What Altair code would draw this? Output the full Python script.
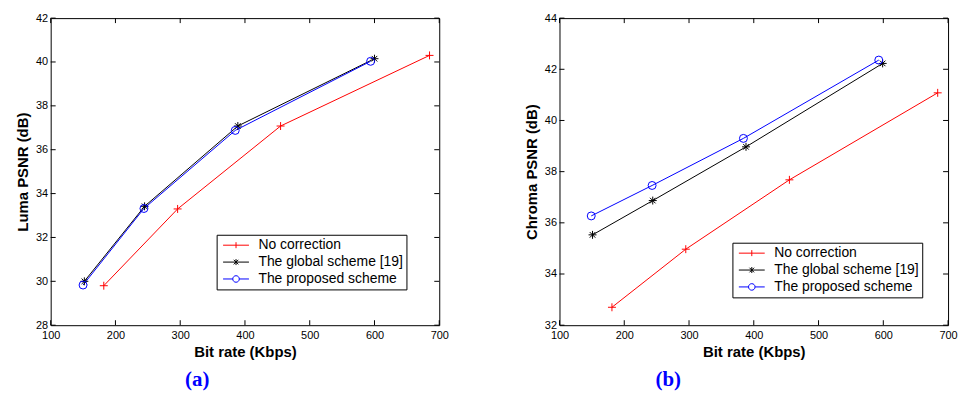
import altair as alt
import pandas as pd

series_names = ["No correction", "The global scheme [19]", "The proposed scheme"]
series_colors = ["#ff0000", "#000000", "#0000ff"]

# Luma (a)
luma_rate_none = [182, 296, 455, 685]
luma_psnr_none = [29.8, 33.3, 37.08, 40.3]
luma_rate_global = [152, 245, 389, 600]
luma_psnr_global = [30.0, 33.42, 37.08, 40.15]
luma_rate_prop = [150, 244, 385, 594]
luma_psnr_prop = [29.83, 33.32, 36.88, 40.03]

# Chroma (b)
chroma_rate_none = [181, 295, 455, 684]
chroma_psnr_none = [32.7, 34.97, 37.68, 41.08]
chroma_rate_global = [151, 244, 388, 599]
chroma_psnr_global = [35.53, 36.87, 38.97, 42.23]
chroma_rate_prop = [149, 243, 384, 593]
chroma_psnr_prop = [36.27, 37.46, 39.3, 42.36]

x_ticks = [100, 200, 300, 400, 500, 600, 700]
luma_ticks = [28, 30, 32, 34, 36, 38, 40, 42]
chroma_ticks = [32, 34, 36, 38, 40, 42, 44]

W, H = 391, 309
TICK = 5

marker_paths = [
    "M-1,0H1M0,-1V1",
    "M-1,0H1M0,-1V1M-0.7,-0.7L0.7,0.7M-0.7,0.7L0.7,-0.7",
    "circle",
]
legend_paths = [
    "M-1.86,0H1.86M0,-0.43V0.43",
    "M-1.86,0H1.86M0,-0.43V0.43M-0.33,-0.33L0.33,0.33M-0.33,0.33L0.33,-0.33",
    "M-1.86,0H-0.47M0.47,0H1.86M0.47,0A0.47,0.47,0,1,1,-0.47,0A0.47,0.47,0,1,1,0.47,0",
]


def make_df(rates, psnrs):
    rows = []
    for name, r, p in zip(series_names, rates, psnrs):
        for a, b in zip(r, p):
            rows.append({"series": name, "rate": a, "psnr": b})
    return pd.DataFrame(rows)


def panel(df, y_title, y_ticks, caption, caption_dx, leg_x, leg_y, pad_expr):
    xs = alt.Scale(domain=[x_ticks[0], x_ticks[-1]], nice=False)
    ys = alt.Scale(domain=[y_ticks[0], y_ticks[-1]], nice=False, zero=False)
    cs = alt.Scale(domain=series_names, range=series_colors)
    x_axis = alt.Axis(values=x_ticks, format="d", labelPadding=4)
    y_axis = alt.Axis(values=y_ticks, format="d", labelPadding=3)
    x_title = "Bit rate (Kbps)"

    def X(field):
        return alt.X(field, scale=xs, title=x_title, axis=x_axis)

    def Y(field):
        return alt.Y(field, scale=ys, title=y_title, axis=y_axis)

    base = alt.Chart(df)
    lines = base.mark_line(strokeWidth=1).encode(
        x=X("rate:Q"), y=Y("psnr:Q"), color=alt.Color("series:N", scale=cs, legend=None))
    points = base.mark_point(filled=False, size=64, strokeWidth=1, opacity=1).encode(
        x=X("rate:Q"), y=Y("psnr:Q"),
        color=alt.Color("series:N", scale=cs, legend=None),
        shape=alt.Shape("series:N", scale=alt.Scale(domain=series_names, range=marker_paths), legend=None),
    )
    leg = alt.Legend(title=None, orient="none", legendX=leg_x, legendY=leg_y,
                     strokeColor="black", fillColor="white", padding=3,
                     labelFont="Liberation Sans", labelFontSize=14, labelColor="black",
                     labelLimit=400,
                     symbolSize=196, symbolStrokeWidth=1, symbolOffset=9, labelOffset=15,
                     rowPadding=2, labelExpr=pad_expr)
    legend_layer = base.transform_filter("false").mark_point(filled=False, size=196, strokeWidth=1, opacity=1).encode(
        x=X("rate:Q"), y=Y("psnr:Q"),
        color=alt.Color("series:N", scale=cs, legend=leg),
        shape=alt.Shape("series:N", scale=alt.Scale(domain=series_names, range=legend_paths), legend=leg),
    )
    xt = pd.DataFrame({"v": x_ticks})
    yt = pd.DataFrame({"v": y_ticks})
    top_t = alt.Chart(xt).mark_rule(color="black", strokeWidth=1).encode(
        x=X("v:Q"), y=alt.value(0), y2=alt.value(TICK))
    bot_t = alt.Chart(xt).mark_rule(color="black", strokeWidth=1).encode(
        x=X("v:Q"), y=alt.value(H - TICK), y2=alt.value(H))
    left_t = alt.Chart(yt).mark_rule(color="black", strokeWidth=1).encode(
        y=Y("v:Q"), x=alt.value(0), x2=alt.value(TICK))
    right_t = alt.Chart(yt).mark_rule(color="black", strokeWidth=1).encode(
        y=Y("v:Q"), x=alt.value(W - TICK), x2=alt.value(W))
    return alt.layer(lines, points, legend_layer, top_t, bot_t, left_t, right_t).resolve_scale(
        color="independent", shape="independent"
    ).properties(
        width=W, height=H,
        title=alt.TitleParams(caption, orient="bottom", frame="group", anchor="middle",
                              font="Liberation Serif", fontSize=21, fontWeight="bold",
                              color="#0000ff", offset=9, dx=caption_dx),
    )


left = panel(make_df([luma_rate_none, luma_rate_global, luma_rate_prop],
                     [luma_psnr_none, luma_psnr_global, luma_psnr_prop]),
             "Luma PSNR (dB)", luma_ticks, "(a)", -48, 167, 218,
             "datum.label + '\u00a0\u00a0'")
right = panel(make_df([chroma_rate_none, chroma_rate_global, chroma_rate_prop],
                      [chroma_psnr_none, chroma_psnr_global, chroma_psnr_prop]),
              "Chroma PSNR (dB)", chroma_ticks, "(b)", -86, 174, 226,
              "datum.label + '\u00a0\u00a0\u00a0'")

chart = alt.hconcat(left, right, spacing=121, bounds="flush").configure_view(
    stroke="black", strokeWidth=1
).configure_axis(
    labelFont="Liberation Sans", labelFontSize=11, labelColor="black",
    ticks=False, domain=False, grid=False, labelFlush=False,
    labelOverlap=False,
    titleFont="Liberation Sans", titleFontSize=15, titleFontWeight="bold",
    titleColor="black", titlePadding=5,
).properties(
    padding={"left": 15, "top": 10, "right": 0, "bottom": 0},
    background="white",
)

chart.save("out.html", embed_options={"renderer": "svg", "actions": False})
